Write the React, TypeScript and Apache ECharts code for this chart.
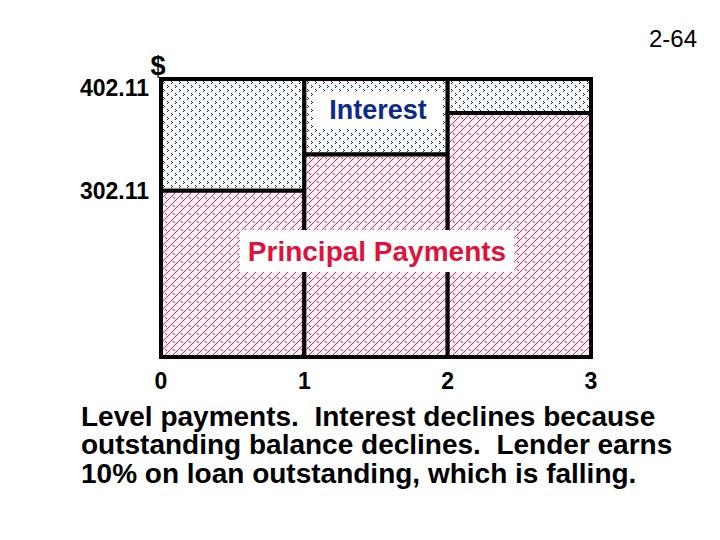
import React, { useEffect, useRef } from "react";
import * as echarts from "echarts";

// ---- data ----
const xTickLabels = ["0", "1", "2", "3"];
const yearStart = [0, 1, 2];
const yearEnd = [1, 2, 3];
const principalTop = [302.11, 334.4, 371.6];
const paymentTop = [402.11, 402.11, 402.11];
const yLabelValues = [302.11, 402.11];
const yAxisMin = 153.2;
const yAxisMax = 402.11;

const interestLabel = "Interest";
const principalLabel = "Principal Payments";
const caption =
  "Level payments.  Interest declines because\noutstanding balance declines.  Lender earns\n10% on loan outstanding, which is falling.";
const slideNumber = "2-64";
const unitLabel = "$";

const FONT = "'Liberation Sans', Arial, Helvetica, sans-serif";

function makePattern(bg: string, fg: string, pixels: number[][]) {
  const c = document.createElement("canvas");
  c.width = 8;
  c.height = 8;
  const ctx = c.getContext("2d")!;
  ctx.fillStyle = bg;
  ctx.fillRect(0, 0, 8, 8);
  ctx.fillStyle = fg;
  pixels.forEach(([x, y]) => ctx.fillRect(x, y, 1, 1));
  return { image: c, repeat: "repeat", imageWidth: 8, imageHeight: 8 } as any;
}

export default function App() {
  const ref = useRef<HTMLDivElement>(null);

  useEffect(() => {
    if (!ref.current) return;
    const chart = echarts.init(ref.current, undefined, { renderer: "svg" });

    const interestPattern = makePattern("#f6fafd", "#2a2a2a", [
      [3, 1], [4, 2], [3, 3],
      [7, 5], [0, 6], [7, 7],
    ]);
    const principalPattern = makePattern("#fdeef3", "#b03560", [
      [7, 0], [6, 1], [5, 2], [4, 3], [3, 4], [2, 5], [1, 6], [0, 7],
      [5, 5], [6, 6],
    ]);

    const data = yearStart.map((s, i) => [s, yearEnd[i], principalTop[i], paymentTop[i]]);

    chart.setOption({
      animation: false,
      backgroundColor: "#ffffff",
      textStyle: { fontFamily: FONT },
      grid: {
        left: 161,
        top: 79,
        right: 129,
        bottom: 183,
        show: true,
        borderColor: "#000",
        borderWidth: 3,
        backgroundColor: "transparent",
        outerBoundsMode: "none",
      },
      xAxis: {
        type: "value",
        min: 0,
        max: 3,
        interval: 1,
        axisLine: { show: true, lineStyle: { color: "#000", width: 3 } },
        axisTick: { show: false },
        splitLine: { show: false },
        axisLabel: {
          color: "#000",
          fontSize: 23,
          fontWeight: "bold",
          fontFamily: FONT,
          margin: 12,
          formatter: (v: number) => xTickLabels[Math.round(v)] ?? "",
        },
      },
      yAxis: {
        type: "value",
        min: yAxisMin,
        max: yAxisMax,
        axisLine: { show: true, lineStyle: { color: "#000", width: 3 } },
        axisTick: { show: false },
        splitLine: { show: false },
        axisLabel: {
          customValues: yLabelValues,
          color: "#000",
          fontSize: 23,
          fontWeight: "bold",
          fontFamily: FONT,
          margin: 12,
          formatter: (v: number) =>
            Math.abs(v - yAxisMax) < 0.01 ? `{t|${v.toFixed(2)}}` : v.toFixed(2),
          rich: {
            t: {
              color: "#000",
              fontSize: 23,
              fontWeight: "bold",
              fontFamily: FONT,
              padding: [18, 0, 0, 0],
            },
          },
        },
      },
      series: [
        {
          type: "custom",
          data,
          encode: { x: [0, 1], y: [2, 3] },
          renderItem: (params: any, api: any) => {
            const x0 = api.value(0);
            const x1 = api.value(1);
            const p = api.value(2);
            const t = api.value(3);
            const tl = api.coord([x0, t]);
            const mid = api.coord([x1, p]);
            const br = api.coord([x1, yAxisMin]);
            return {
              type: "group",
              children: [
                {
                  type: "rect",
                  shape: { x: tl[0], y: tl[1], width: mid[0] - tl[0], height: mid[1] - tl[1] },
                  style: { fill: interestPattern, stroke: "#000", lineWidth: 4 },
                },
                {
                  type: "rect",
                  shape: { x: tl[0], y: mid[1], width: mid[0] - tl[0], height: br[1] - mid[1] },
                  style: { fill: principalPattern, stroke: "#000", lineWidth: 4 },
                },
              ],
            };
          },
        },
      ],
      graphic: [
        {
          type: "text",
          z: 100,
          x: 378,
          y: 110,
          style: {
            text: interestLabel,
            align: "center",
            verticalAlign: "middle",
            font: `bold 27px ${FONT}`,
            fill: "#0b2a8c",
            backgroundColor: "#ffffff",
            lineHeight: 29,
            padding: [4, 15, 4, 15],
          },
        },
        {
          type: "text",
          z: 100,
          x: 377,
          y: 251,
          style: {
            text: principalLabel,
            align: "center",
            verticalAlign: "middle",
            font: `bold 28px ${FONT}`,
            fill: "#e0123c",
            backgroundColor: "#ffffff",
            lineHeight: 32,
            padding: [5, 8, 5, 8],
          },
        },
        {
          type: "text",
          z: 100,
          x: 158,
          y: 66,
          style: {
            text: unitLabel,
            align: "center",
            verticalAlign: "middle",
            font: `bold 27px ${FONT}`,
            fill: "#000",
          },
        },
        {
          type: "text",
          z: 100,
          x: 697,
          y: 38,
          style: {
            text: slideNumber,
            align: "right",
            verticalAlign: "middle",
            font: `24px ${FONT}`,
            fill: "#000",
          },
        },
        {
          type: "text",
          z: 100,
          x: 81,
          y: 402,
          style: {
            text: caption,
            align: "left",
            verticalAlign: "top",
            font: `bold 28px ${FONT}`,
            lineHeight: 28.5,
            fill: "#000",
          },
        },
      ],
    } as any);

    return () => chart.dispose();
  }, []);

  return (
    <div
      ref={ref}
      style={{ position: "absolute", left: 0, top: 0, width: 720, height: 540 }}
    />
  );
}
